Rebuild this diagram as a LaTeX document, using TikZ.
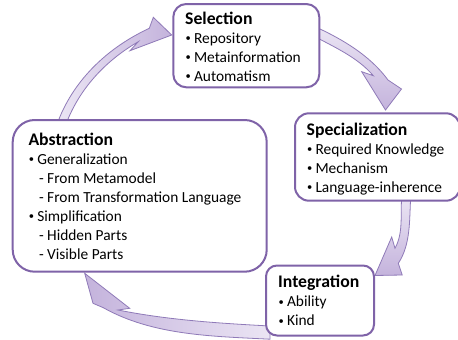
\documentclass[tikz,border=0pt]{standalone}
\usepackage{fontspec}
\setmainfont{Carlito}
\definecolor{boxline}{HTML}{7F63A8}
\definecolor{arrline}{HTML}{8F7AB8}
\definecolor{arrlight}{HTML}{EBE5F4}
\definecolor{arrdark}{HTML}{C4B3DC}
\newcommand\bodyfont{\fontsize{15.4}{19}\selectfont}
\newcommand\ttl[1]{{\fontsize{17.7}{19}\selectfont\bfseries #1}}
\newcommand\bl{\makebox[8.8pt][l]{\hspace{0.3pt}\raisebox{1.4pt}{\fontsize{10.5}{10.5}\selectfont •}}}
\newcommand\subitm{\hspace{10.5pt}-\ }
\tikzset{
  box/.style={draw=boxline, line width=2pt, fill=white, rounded corners=#1, inner sep=0pt},
  box/.default=13pt,
  arrowshape/.style={draw=arrline, line width=0.8pt, line join=miter},
  txt/.style={anchor=base west, inner sep=0pt, font=\bodyfont}
}
\begin{document}
\begin{tikzpicture}[x=1pt, y=-1pt]
\useasboundingbox (0,0) rectangle (458,340);
\fill[white] (0,0) rectangle (458,340);

% cycle arrows
\path[arrowshape, left color=arrlight, right color=arrdark]
  (67.6,120) .. controls (81.9,85.5) and (107.6,59.5) .. (138.3,41.7)
  -- (130,50.7) -- (171.7,35) -- (153.3,17.3) -- (149.3,28.3)
  .. controls (108.8,47.1) and (75.0,78.4) .. (58.6,120) -- cycle;
\path[arrowshape, top color=arrlight, bottom color=arrdark]
  (314.7,36.5) .. controls (335.6,47.7) and (357.9,57.7) .. (373.3,75.7)
  -- (361.7,71.7) -- (385.5,110) -- (401.5,89) -- (388,80)
  .. controls (369.8,55.3) and (342.6,39.3) .. (314.7,26.5) -- cycle;
\path[arrowshape, top color=arrlight, bottom color=arrdark]
  (401.7,197) .. controls (400.3,214.3) and (403.5,233.1) .. (395,248.3)
  -- (391.7,237) -- (375,275.5) -- (402.2,275) -- (398.3,263.3)
  .. controls (410.9,244.2) and (409.3,219.9) .. (410.7,197) -- cycle;
\path[arrowshape, left color=arrdark, right color=arrlight]
  (270,326) .. controls (219.1,323.3) and (168,320) .. (118,310)
  -- (129.7,308.3) -- (84.7,273.3) -- (93,303.3) -- (103.3,307.7)
  .. controls (152.9,335.6) and (213.1,336.3) .. (270,339.2) -- cycle;

% boxes
\node[box, minimum width=146pt, minimum height=83.3pt] (sel) at (246.3,45.65) {};
\node[box=14pt, minimum width=165pt, minimum height=87.4pt] (spe) at (377.5,157) {};
\node[box=22pt, minimum width=254pt, minimum height=151.7pt] (abs) at (139.7,195.85) {};
\node[box=11pt, minimum width=108pt, minimum height=70pt] (int) at (320,300.5) {};

% texts
\node[txt] (selT) at (185,24) {\begin{tabular}[t]{@{}l@{}}
\ttl{Selection}\\ \bl Repository\\ \bl Metainformation\\ \bl Automatism\end{tabular}};
\node[txt] (speT) at (306.5,135) {\begin{tabular}[t]{@{}l@{}}
\ttl{Specialization}\\ \bl Required Knowledge\\ \bl Mechanism\\ \bl Language-inherence\end{tabular}};
\node[txt] (absT) at (28.3,145) {\begin{tabular}[t]{@{}l@{}}
\ttl{Abstraction}\\ \bl Generalization\\ \subitm From Metamodel\\ \subitm From Transformation Language\\
\bl Simplification\\ \subitm Hidden Parts\\ \subitm Visible Parts\end{tabular}};
\node[txt] (intT) at (278,287.7) {\begin{tabular}[t]{@{}l@{}}
\ttl{Integration}\\ \bl Ability\\ \bl Kind\end{tabular}};
\end{tikzpicture}
\end{document}
